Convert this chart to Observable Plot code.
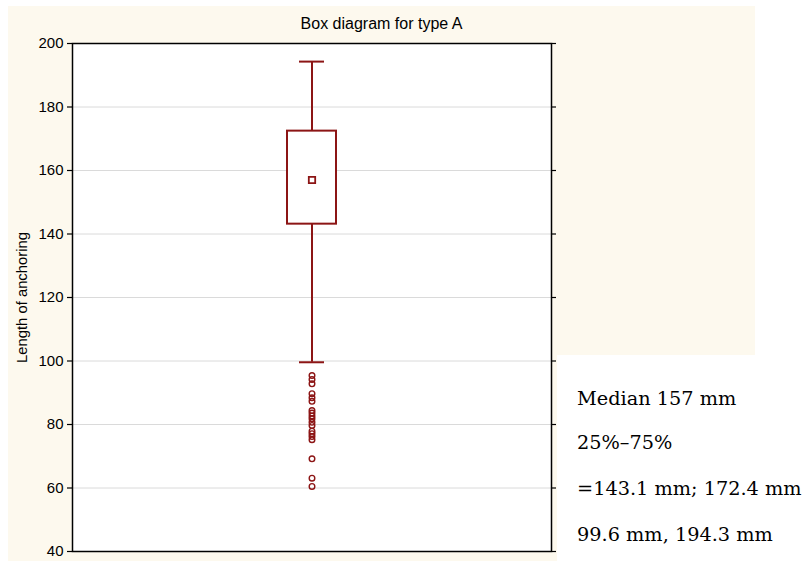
<!DOCTYPE html>
<html>
<head>
<meta charset="utf-8">
<script src="https://cdn.jsdelivr.net/npm/d3@7"></script>
<script src="https://cdn.jsdelivr.net/npm/@observablehq/plot@0.6"></script>
<style>
  html, body { margin: 0; padding: 0; background: #ffffff; }
  #page { position: relative; width: 808px; height: 561px; overflow: hidden; }
  .cream { position: absolute; background: #fdf9ee; }
  #title { position: absolute; left: 8px; top: 16px; width: 747px; text-align: center;
           font: 16px "Liberation Sans", Arial, sans-serif; line-height: 15px; color: #000; }
  #chart { position: absolute; left: 0; top: 0; }
  .note { position: absolute; left: 577px; font: 19.3px "DejaVu Serif", serif; line-height: 20px; color: #000; white-space: nowrap; }
</style>
</head>
<body>
<div id="page">
  <div class="cream" style="left:8px;top:6px;width:549px;height:555px"></div>
  <div class="cream" style="left:8px;top:6px;width:747px;height:349px"></div>
  <div id="chart"></div>
  <div id="title"></div>
  <div id="notes"></div>
</div>
<script>
// ---- data ----
const title = "Box diagram for type A";
const yLabel = "Length of anchoring";
const categories = ["A"];
const q1 = [143.1];
const medians = [157];
const q3 = [172.4];
const whiskerLow = [99.6];
const whiskerHigh = [194.3];
const outliers = [95.4, 94.2, 92.8, 89.7, 88.4, 87.3, 84.4, 83.6, 82.7, 81.8, 80.7, 79.7, 77.9, 77.1, 76.2, 75.2, 69.2, 63.1, 60.5];
const yTicks = [40, 60, 80, 100, 120, 140, 160, 180, 200];
const notes = ["Median 157 mm", "25%–75%", "=143.1 mm; 172.4 mm", "99.6 mm, 194.3 mm"];

// ---- build ----
const boxes = categories.map((c, i) => ({cat: c, q1: q1[i], med: medians[i], q3: q3[i], lo: whiskerLow[i], hi: whiskerHigh[i]}));
const outlierData = outliers.map(v => ({cat: categories[0], v}));
const red = "#8c1515";

const chart = Plot.plot({
  width: 560,
  height: 561,
  marginLeft: 72,
  marginRight: 9,
  marginTop: 43,
  marginBottom: 10,
  style: {background: "transparent", color: "#000", fontFamily: "'Liberation Sans', Arial, sans-serif"},
  x: {type: "band", domain: categories, padding: 0, axis: null},
  y: {domain: [yTicks[0], yTicks[yTicks.length - 1]], axis: null},
  marks: [
    Plot.frame({fill: "white", stroke: "none"}),
    Plot.gridY(yTicks.slice(1, -1), {stroke: "#dadada", strokeOpacity: 1, strokeWidth: 1}),
    Plot.axisY(yTicks, {anchor: "left", tickSize: 5, tickPadding: 4, fontSize: 15, label: null, strokeWidth: 1.2}),
    Plot.axisY(yTicks, {anchor: "right", tickSize: 4, tickFormat: () => "", label: null, strokeWidth: 1.2}),
    Plot.text([yLabel], {frameAnchor: "left", rotate: -90, dx: -50, fontSize: 14.8, textAnchor: "middle"}),
    Plot.ruleX(boxes, {x: "cat", y1: "q3", y2: "hi", stroke: red, strokeWidth: 2}),
    Plot.ruleX(boxes, {x: "cat", y1: "lo", y2: "q1", stroke: red, strokeWidth: 2}),
    Plot.tickY(boxes, {x: "cat", y: "hi", stroke: red, strokeWidth: 2, insetLeft: 227, insetRight: 227}),
    Plot.tickY(boxes, {x: "cat", y: "lo", stroke: red, strokeWidth: 2, insetLeft: 227, insetRight: 227}),
    Plot.barY(boxes, {x: "cat", y1: "q1", y2: "q3", fill: "white", stroke: red, strokeWidth: 2, insetLeft: 215, insetRight: 215}),
    Plot.dot(boxes, {x: "cat", y: "med", symbol: "square", r: 3.6, stroke: red, strokeWidth: 1.8, fill: "white"}),
    Plot.dot(outlierData, {x: "cat", y: "v", r: 2.8, stroke: red, strokeWidth: 1.4, fill: "none"}),
    Plot.frame({stroke: "#000", strokeWidth: 1.5})
  ]
});
document.getElementById("chart").appendChild(chart);
document.getElementById("title").textContent = title;

const baselines = [406, 450, 496, 542];
const notesEl = document.getElementById("notes");
notes.forEach((t, i) => {
  const d = document.createElement("div");
  d.className = "note";
  d.style.top = (baselines[i] - 17) + "px";
  d.textContent = t;
  notesEl.appendChild(d);
});
</script>
</body>
</html>
